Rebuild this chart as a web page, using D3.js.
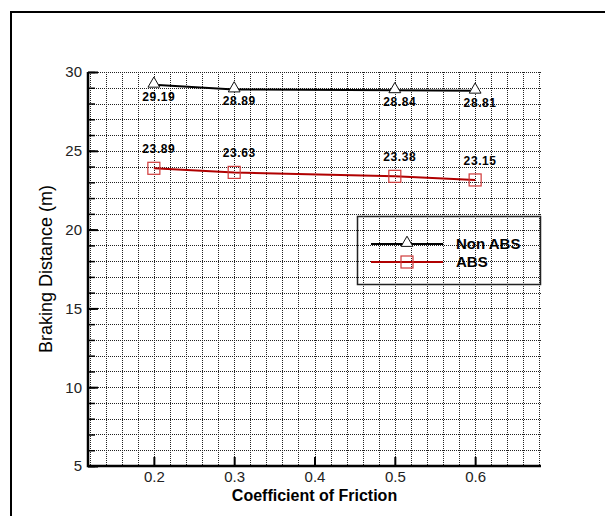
<!DOCTYPE html>
<html>
<head>
<meta charset="utf-8">
<script src="https://cdn.jsdelivr.net/npm/d3@7"></script>
<style>
  body { margin: 0; background: #fff; }
  svg { display: block; font-family: "Liberation Sans", Arial, sans-serif; }
</style>
</head>
<body>
<svg id="chart" width="605" height="516"></svg>
<script>
// values
var friction = [0.2, 0.3, 0.5, 0.6];
var nonAbs = [29.19, 28.89, 28.84, 28.81];
var abs = [23.89, 23.63, 23.38, 23.15];
var seriesNames = ["Non ABS", "ABS"];
var xTicks = [0.2, 0.3, 0.4, 0.5, 0.6];
var yTicks = [5, 10, 15, 20, 25, 30];

var svg = d3.select("#chart"),
  plot = { left: 88, right: 541, top: 72, bottom: 466 },
  x = d3.scaleLinear().domain([0.118, 0.682]).range([plot.left, plot.right]),
  y = d3.scaleLinear().domain([5, 30]).range([plot.bottom, plot.top]),
  blackLine = "#000",
  redLine = "#b00000",
  redMarker = "#d03a3a";

// outer frame (runs off the right and bottom edges)
svg.append("path")
  .attr("d", "M11,620V12H620")
  .attr("fill", "none")
  .attr("stroke", "#000")
  .attr("stroke-width", 2);

// dotted grid
var gridX = d3.range(0.12, 0.6801, 0.02),
  gridY = d3.range(5, 30.01, 1);

svg.append("g")
  .attr("class", "grid")
  .selectAll("line.gx")
  .data(gridX)
  .enter().append("line")
  .attr("x1", function(d) { return Math.round(x(d)) + 0.5; })
  .attr("x2", function(d) { return Math.round(x(d)) + 0.5; })
  .attr("y1", plot.top)
  .attr("y2", plot.bottom)
  .attr("stroke", "#222")
  .attr("stroke-dasharray", "1,1");

svg.select(".grid")
  .selectAll("line.gy")
  .data(gridY)
  .enter().append("line")
  .attr("x1", plot.left)
  .attr("x2", plot.right)
  .attr("y1", function(d) { return Math.round(y(d)) + 0.5; })
  .attr("y2", function(d) { return Math.round(y(d)) + 0.5; })
  .attr("stroke", "#222")
  .attr("stroke-dasharray", "1,1");

// axes, ticks point inward
var yMinor = svg.append("g")
  .attr("transform", "translate(" + plot.left + ",0)")
  .call(d3.axisLeft(y).tickValues(gridY).tickSize(-7).tickFormat(""));
yMinor.select(".domain").remove();
yMinor.selectAll("line").attr("stroke-width", 1.5);

var yAxis = svg.append("g")
  .attr("transform", "translate(" + plot.left + ",0)")
  .call(d3.axisLeft(y).tickValues(yTicks).tickSize(-10).tickPadding(6).tickFormat(d3.format("d")));
yAxis.select(".domain").remove();
yAxis.selectAll("line").attr("stroke-width", 2);
yAxis.selectAll("text")
  .attr("font-size", 15)
  .attr("fill", "#222")
  .attr("font-family", "Liberation Sans, Arial, sans-serif");

var xAxis = svg.append("g")
  .attr("transform", "translate(0," + plot.bottom + ")")
  .call(d3.axisBottom(x).tickValues(xTicks).tickSize(-9).tickPadding(4).tickFormat(d3.format(".1f")));
xAxis.select(".domain").remove();
xAxis.selectAll("line").attr("stroke-width", 2);
xAxis.selectAll("text")
  .attr("font-size", 15)
  .attr("fill", "#222")
  .attr("dy", "0.8em")
  .attr("font-family", "Liberation Sans, Arial, sans-serif");

svg.append("path")
  .attr("d", "M" + plot.left + "," + plot.top + "V" + plot.bottom + "H" + plot.right)
  .attr("fill", "none")
  .attr("stroke", "#000")
  .attr("stroke-width", 2.5);

// axis titles
svg.append("text")
  .attr("x", (plot.left + plot.right) / 2)
  .attr("y", 501)
  .attr("text-anchor", "middle")
  .attr("font-size", 16)
  .attr("font-weight", "bold")
  .text("Coefficient of Friction");

svg.append("text")
  .attr("transform", "translate(52," + (plot.top + plot.bottom) / 2 + ") rotate(-90)")
  .attr("text-anchor", "middle")
  .attr("font-size", 18)
  .text("Braking Distance (m)");

// series
var line = d3.line()
  .x(function(d) { return x(d[0]); })
  .y(function(d) { return y(d[1]); });

var tri = d3.symbol().type(d3.symbolTriangle).size(60);

function drawSeries(values, color, labelDy, marker) {
  var pts = friction.map(function(f, i) { return [f, values[i]]; }),
    g = svg.append("g");

  g.append("path")
    .attr("d", line(pts))
    .attr("fill", "none")
    .attr("stroke", color)
    .attr("stroke-width", 2);

  marker(g.selectAll(".m").data(pts).enter());

  g.selectAll(".lbl")
    .data(pts)
    .enter().append("text")
    .attr("x", function(d) { return x(d[0]) + 5; })
    .attr("y", function(d) { return y(d[1]) + labelDy; })
    .attr("text-anchor", "middle")
    .attr("font-size", 12)
    .attr("font-weight", "bold")
    .attr("letter-spacing", 0.6)
    .text(function(d) { return d[1].toFixed(2); });
}

drawSeries(nonAbs, blackLine, 16, function(sel) {
  sel.append("path")
    .attr("d", tri)
    .attr("transform", function(d) { return "translate(" + x(d[0]) + "," + (y(d[1]) - 1) + ")"; })
    .attr("fill", "#fff")
    .attr("stroke", "#111")
    .attr("stroke-width", 1);
});

drawSeries(abs, redLine, -15, function(sel) {
  sel.append("rect")
    .attr("x", function(d) { return x(d[0]) - 6; })
    .attr("y", function(d) { return y(d[1]) - 6; })
    .attr("width", 12)
    .attr("height", 12)
    .attr("fill", "none")
    .attr("stroke", redMarker)
    .attr("stroke-width", 1.2);
});

// legend
var legend = svg.append("g").attr("transform", "translate(357,216)");
legend.append("rect")
  .attr("x", 0.5).attr("y", 0.5)
  .attr("width", 183).attr("height", 68)
  .attr("fill", "none")
  .attr("stroke", "#222")
  .attr("stroke-width", 1.5);

var legendRows = [
  { name: seriesNames[0], color: blackLine, y: 28 },
  { name: seriesNames[1], color: redLine, y: 46 }
];

legendRows.forEach(function(r, i) {
  legend.append("line")
    .attr("x1", 14).attr("x2", 86)
    .attr("y1", r.y).attr("y2", r.y)
    .attr("stroke", r.color)
    .attr("stroke-width", 2);
  if (i === 0) {
    legend.append("path")
      .attr("d", tri)
      .attr("transform", "translate(50," + (r.y - 1) + ")")
      .attr("fill", "#fff")
      .attr("stroke", "#111");
  } else {
    legend.append("rect")
      .attr("x", 44).attr("y", r.y - 6)
      .attr("width", 12).attr("height", 12)
      .attr("fill", "none")
      .attr("stroke", redMarker)
      .attr("stroke-width", 1.2);
  }
  legend.append("text")
    .attr("x", 99)
    .attr("y", r.y + 5)
    .attr("font-size", 15)
    .attr("font-weight", "bold")
    .text(r.name);
});
</script>
</body>
</html>
